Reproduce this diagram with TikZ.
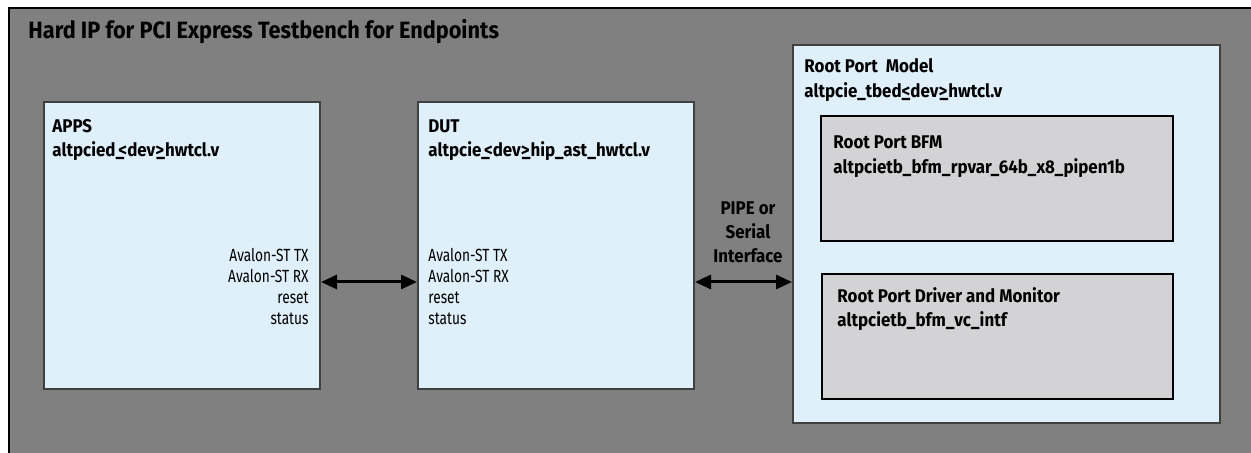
\documentclass[tikz,border=0pt]{standalone}
\usepackage{fontspec}
\setmainfont{Fira Sans}[FakeStretch=0.78]
\newfontfamily\lblfam{Fira Sans}[FakeStretch=0.92]
\usetikzlibrary{arrows.meta}
\definecolor{bggray}{HTML}{808080}
\definecolor{lblue}{HTML}{E0F0FB}
\definecolor{lgray}{HTML}{D3D3D5}
\definecolor{bedge}{HTML}{404040}
\newcommand\ulL{\_\kern-0.32em<}
\newcommand\ulR{>\kern-0.42em\_}
\newcommand\ulLL{\rlap{\_}<}
\tikzset{
  bluebox/.style={draw=bedge, line width=1pt, fill=lblue, inner sep=0pt},
  graybox/.style={draw=black, line width=1pt, fill=lgray, inner sep=0pt},
  lbl/.style={anchor=base west, inner sep=0pt, font=\lblfam\fontsize{9.2}{10}\selectfont\bfseries},
  sig/.style={inner sep=0pt, font=\fontsize{8.8}{10.6}\selectfont},
  biarrow/.style={line width=1.5pt, {Triangle[length=8pt,width=7pt]}-{Triangle[length=8pt,width=7pt]}}
}
\begin{document}
\begin{tikzpicture}[x=0.5pt,y=-0.5pt]
\useasboundingbox (0,0) rectangle (1251,453);
\clip (0,0) rectangle (1251,453);
\fill[white] (0,0) rectangle (1251,453);
\node[draw=black, line width=1pt, fill=bggray, minimum width=630pt, minimum height=230pt, anchor=north west, inner sep=0pt] (outer) at (8,7) {};
\node[anchor=base west, inner sep=0pt, font=\lblfam\fontsize{11.8}{13}\selectfont\bfseries] (title) at (28,39) {Hard IP for PCI Express Testbench for Endpoints};

\node[bluebox, minimum width=138pt, minimum height=143.5pt] (apps) at (182,245.5) {};
\node[bluebox, minimum width=138pt, minimum height=143.5pt] (dut) at (556,245.5) {};
\node[bluebox, minimum width=213.5pt, minimum height=189pt] (rpm) at (1006.5,234) {};
\node[graybox, minimum width=176pt, minimum height=62.5pt] (bfm) at (997,178.5) {};
\node[graybox, minimum width=175.5pt, minimum height=62.5pt] (drv) at (997.5,336.5) {};

\node[lbl] (appsA) at (52,133) {APPS};
\node[lbl] (appsB) at (52,157) {altpcied\ulL dev\ulR hwtcl.v};
\node[lbl] (dutA) at (428,133) {DUT};
\node[lbl] (dutB) at (428,157) {altpcie\ulL dev\ulR hip\_ast\_hwtcl.v};
\node[lbl] (rpmA) at (804,73) {Root Port\ \ Model};
\node[lbl] (rpmB) at (804,98) {altpcie\_tbed\ulLL dev\ulR hwtcl.v};
\node[lbl] (bfmA) at (833,149) {Root Port BFM};
\node[lbl] (bfmB) at (833,174) {altpcietb\_bfm\_rpvar\_64b\_x8\_pipen1b};
\node[lbl] (drvA) at (837,303) {Root Port Driver and Monitor};
\node[lbl] (drvB) at (837,327) {altpcietb\_bfm\_vc\_intf};

\node[sig, align=right, anchor=base east] (appsig) at (309,325) {Avalon-ST TX\\Avalon-ST RX\\reset\\status};
\node[sig, align=left, anchor=base west] (dutsig) at (428,325) {Avalon-ST TX\\Avalon-ST RX\\reset\\status};
\node[inner sep=0pt, align=center, anchor=base, font=\lblfam\fontsize{9.2}{12}\selectfont\bfseries] (pipe) at (748,263) {PIPE or\\Serial\\Interface};

\coordinate (ay) at (0,282);
\draw[biarrow] (apps.east |- ay) -- (dut.west |- ay);
\draw[biarrow] (dut.east |- ay) -- (rpm.west |- ay);
\end{tikzpicture}
\end{document}
